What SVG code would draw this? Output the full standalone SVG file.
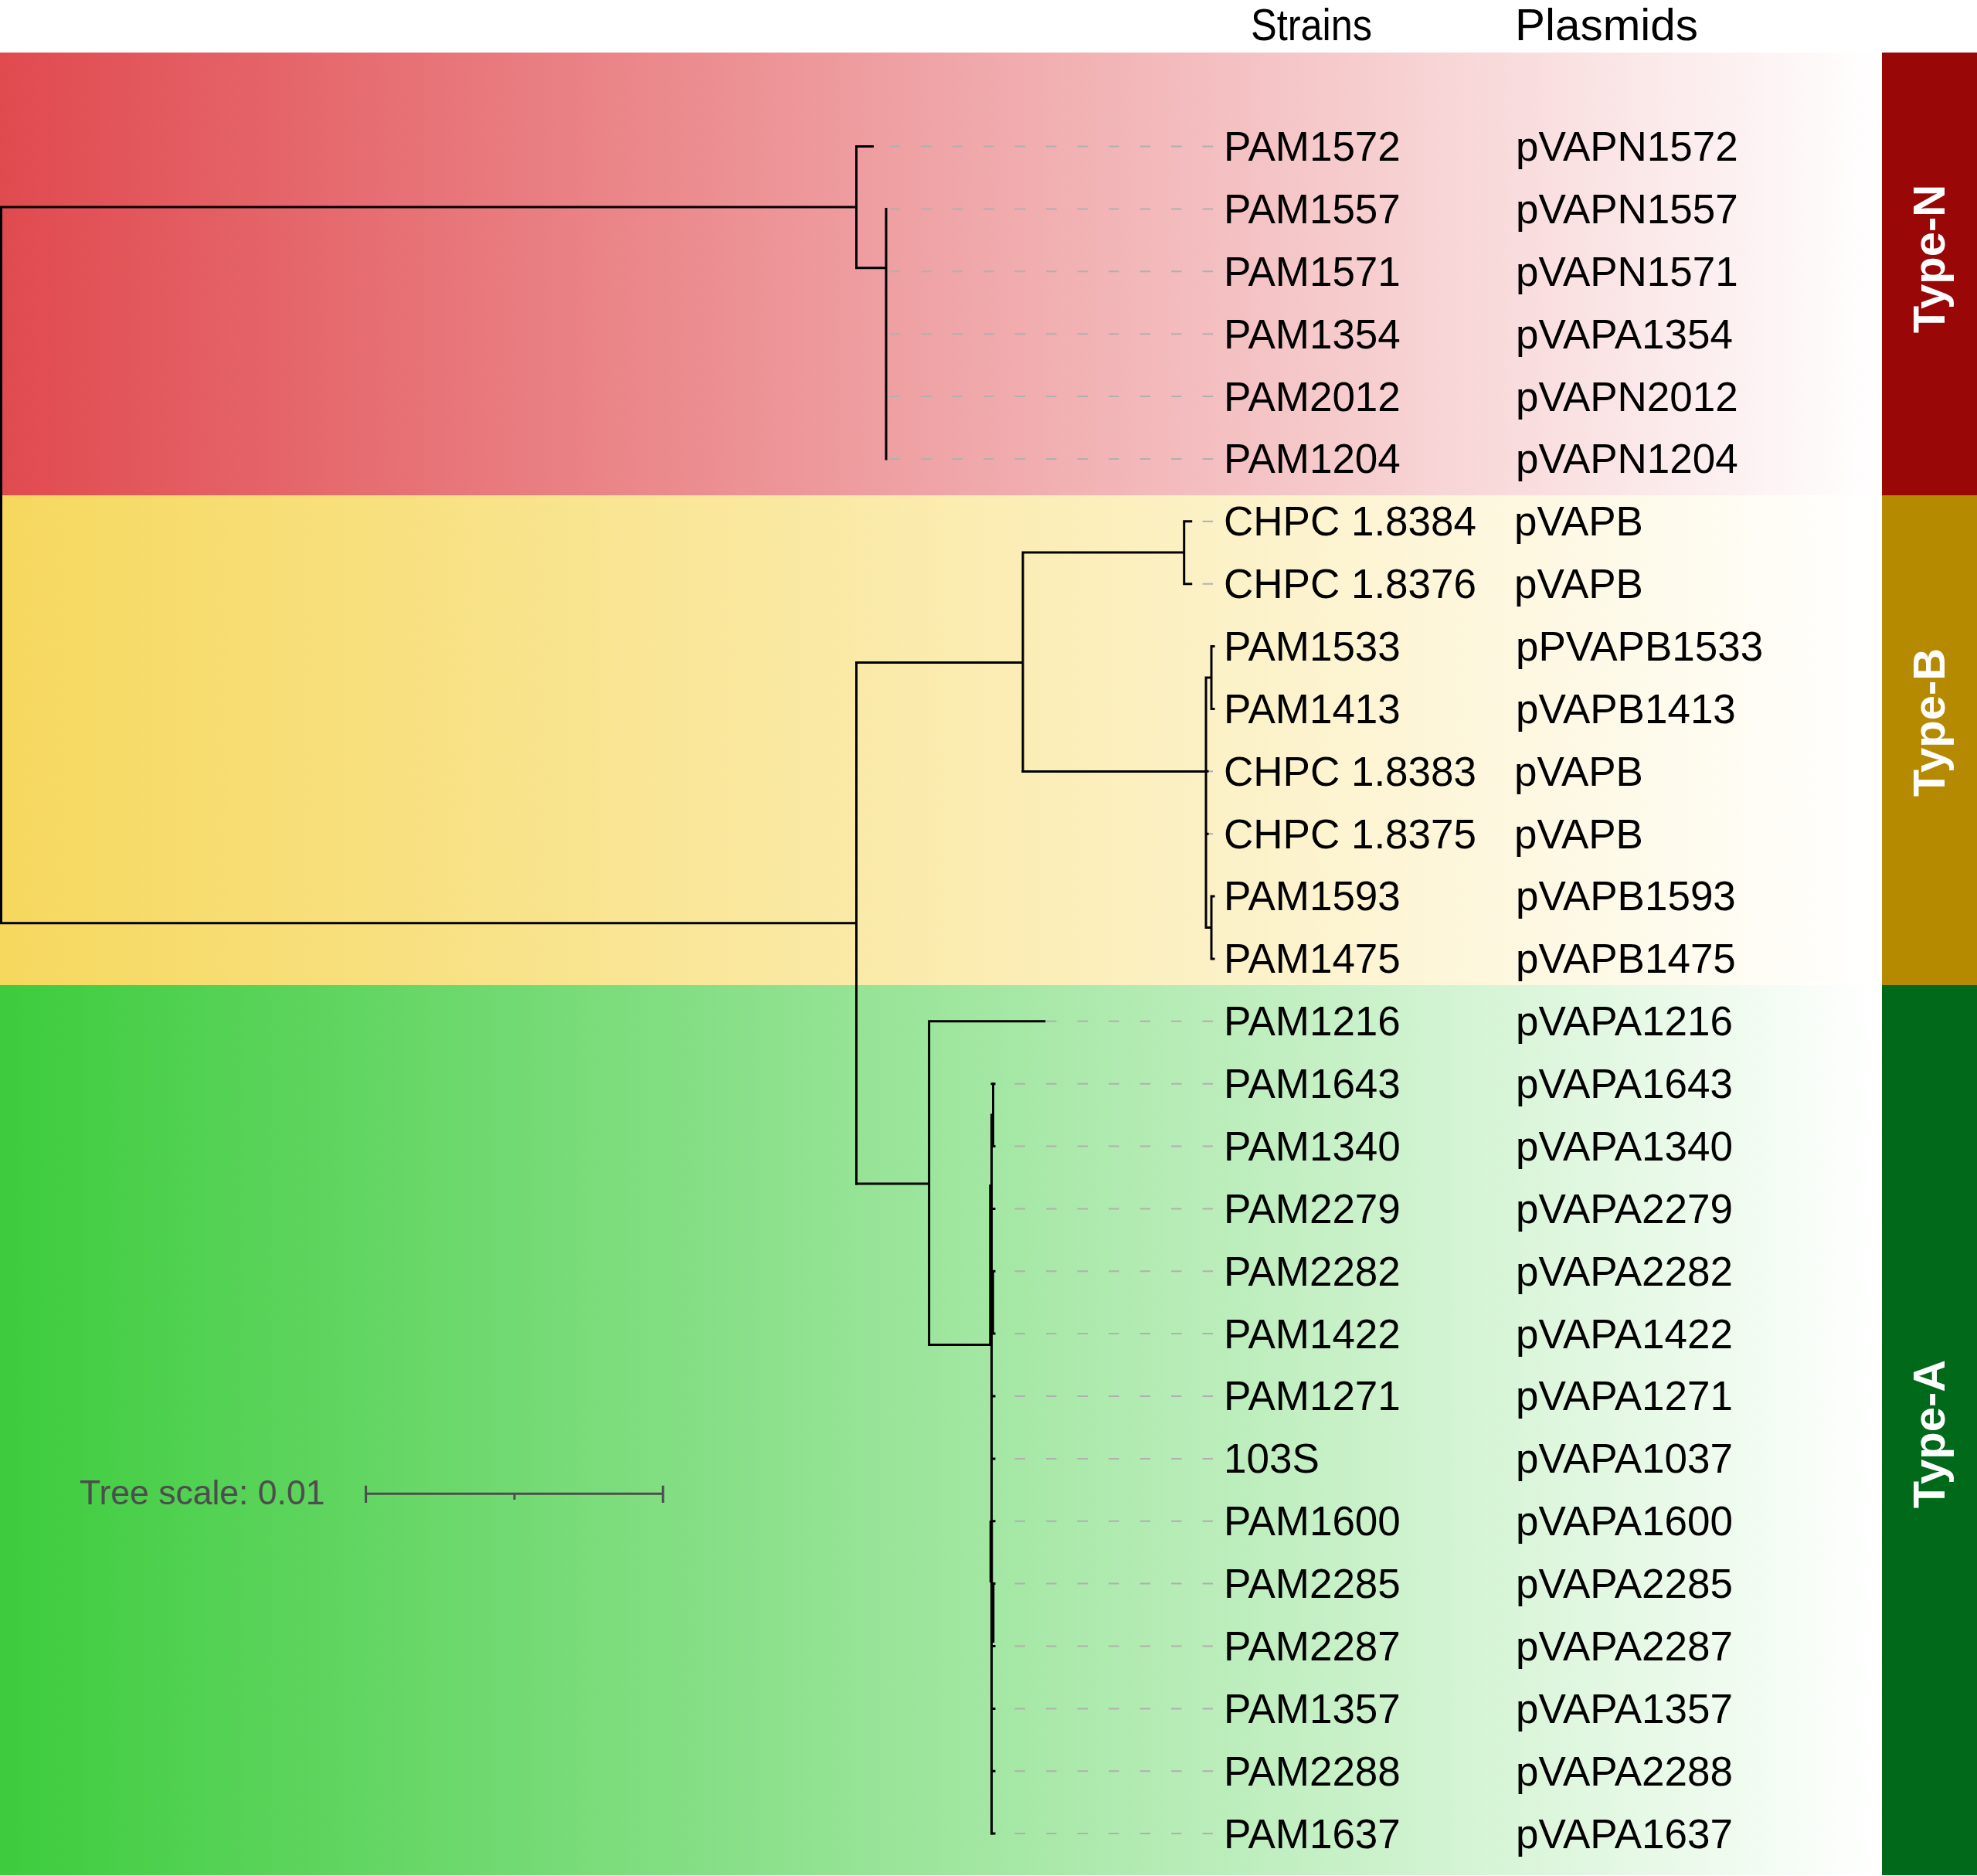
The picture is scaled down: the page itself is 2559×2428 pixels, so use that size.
<svg xmlns="http://www.w3.org/2000/svg" width="2559" height="2428" viewBox="0 0 2559 2428">
<defs>
<linearGradient id="gN" x1="0" y1="0" x2="2436" y2="0" gradientUnits="userSpaceOnUse"><stop offset="0" stop-color="#E04A4F"/><stop offset="1" stop-color="#FFFFFF"/></linearGradient>
<linearGradient id="gB" x1="0" y1="0" x2="2436" y2="0" gradientUnits="userSpaceOnUse"><stop offset="0" stop-color="#F6D85E"/><stop offset="1" stop-color="#FFFFFF"/></linearGradient>
<linearGradient id="gA" x1="0" y1="0" x2="2436" y2="0" gradientUnits="userSpaceOnUse"><stop offset="0" stop-color="#3DCC3D"/><stop offset="1" stop-color="#FFFFFF"/></linearGradient>
</defs>
<style>
.lbl{font-family:"Liberation Sans",Arial,sans-serif;font-size:53px;fill:#000}
.hdr{font-family:"Liberation Sans",Arial,sans-serif;font-size:58px;fill:#000}
.typ{font-family:"Liberation Sans",Arial,sans-serif;font-size:58px;font-weight:bold;fill:#fff;text-anchor:middle}
.br{stroke:#000;stroke-width:3;fill:none;stroke-linecap:square}
.ld{stroke:#b0b0b0;stroke-width:2;stroke-dasharray:13.5 27;fill:none}
.sc{stroke:#4d4d4d;stroke-width:3;fill:none}
</style>
<rect x="0" y="0" width="2559" height="2428" fill="#fff"/>
<g id="bands">
<rect x="0" y="68" width="2436" height="573" fill="url(#gN)"/>
<rect x="0" y="641" width="2436" height="634" fill="url(#gB)"/>
<rect x="0" y="1275" width="2436" height="1152" fill="url(#gA)"/>
<rect x="2436" y="68" width="123" height="573" fill="#990707"/>
<rect x="2436" y="641" width="123" height="634" fill="#B58900"/>
<rect x="2436" y="1275" width="123" height="1152" fill="#00691A"/>
</g>
<g id="type-labels">
<text class="typ" transform="translate(2517,335) rotate(-90)">Type-N</text>
<text class="typ" transform="translate(2517,935) rotate(-90)">Type-B</text>
<text class="typ" transform="translate(2517,1856) rotate(-90)">Type-A</text>
</g>
<g id="headers">
<text class="hdr" x="1619" y="52" textLength="157" lengthAdjust="spacingAndGlyphs">Strains</text>
<text class="hdr" x="1961" y="52" textLength="237" lengthAdjust="spacingAndGlyphs">Plasmids</text>
</g>
<g id="leaders">
<line class="ld" x1="1570" y1="189.6" x2="1130" y2="189.6"/>
<line class="ld" x1="1570" y1="270.5" x2="1148" y2="270.5"/>
<line class="ld" x1="1570" y1="351.3" x2="1148" y2="351.3"/>
<line class="ld" x1="1570" y1="432.2" x2="1148" y2="432.2"/>
<line class="ld" x1="1570" y1="513.1" x2="1148" y2="513.1"/>
<line class="ld" x1="1570" y1="594.0" x2="1148" y2="594.0"/>
<line class="ld" x1="1570" y1="674.8" x2="1542" y2="674.8"/>
<line class="ld" x1="1570" y1="755.7" x2="1542" y2="755.7"/>
<line class="ld" x1="1570" y1="998.3" x2="1563" y2="998.3"/>
<line class="ld" x1="1570" y1="1079.2" x2="1563" y2="1079.2"/>
<line class="ld" x1="1570" y1="1321.8" x2="1352" y2="1321.8"/>
<line class="ld" x1="1570" y1="1402.7" x2="1287" y2="1402.7"/>
<line class="ld" x1="1570" y1="1483.5" x2="1287" y2="1483.5"/>
<line class="ld" x1="1570" y1="1564.4" x2="1287" y2="1564.4"/>
<line class="ld" x1="1570" y1="1645.3" x2="1287" y2="1645.3"/>
<line class="ld" x1="1570" y1="1726.1" x2="1287" y2="1726.1"/>
<line class="ld" x1="1570" y1="1807.0" x2="1287" y2="1807.0"/>
<line class="ld" x1="1570" y1="1887.9" x2="1287" y2="1887.9"/>
<line class="ld" x1="1570" y1="1968.7" x2="1287" y2="1968.7"/>
<line class="ld" x1="1570" y1="2049.6" x2="1287" y2="2049.6"/>
<line class="ld" x1="1570" y1="2130.5" x2="1287" y2="2130.5"/>
<line class="ld" x1="1570" y1="2211.4" x2="1287" y2="2211.4"/>
<line class="ld" x1="1570" y1="2292.2" x2="1287" y2="2292.2"/>
<line class="ld" x1="1570" y1="2373.1" x2="1287" y2="2373.1"/>
</g>
<g id="connectors">
<path class="br" d="M1.5,268 V1194.7 M1.5,268 H1108.5 M1.5,1194.7 H1108.5"/>
<path class="br" d="M1108.5,189.6 V346.7 M1108.5,189.6 H1129.5 M1108.5,346.7 H1147 M1147,270.5 V594"/>
<path class="br" d="M1108.5,857.5 V1532 M1108.5,857.5 H1324 M1324,715 V998.6 M1324,715 H1532.7 M1532.7,674.8 V755.7 M1532.7,674.8 H1541.7 M1532.7,755.7 H1541.7"/>
<path class="br" d="M1324,998.6 H1561 M1561,877 V1200.5 M1561,877 H1568 M1561,1200.5 H1568 M1568,836.6 V917.4 M1568,1160 V1240.9 M1568,836.6 H1571 M1568,917.4 H1571 M1568,1160 H1571 M1568,1240.9 H1571 M1561,998.3 H1563 M1561,1079.2 H1563"/>
<path class="br" d="M1108.5,1532 H1202.6 M1202.6,1321.8 V1740.6 M1202.6,1321.8 H1351.8 M1202.6,1740.6 H1283"/>
<path class="br" d="M1285.5,1402.7 V1483.5 M1283.5,1443 V2373.1"/>
<path stroke="#000" stroke-width="4.5" fill="none" d="M1284.5,1443 V1484 M1282.5,1533 V1740 M1284.5,1644 V1727 M1283,1968 V2048 M1285,2048 V2126"/>
<path class="br" d="M1284,1402.7 H1287 M1284,1483.5 H1287 M1284,1564.4 H1287 M1284,1645.3 H1287 M1284,1726.1 H1287 M1284,1807 H1287 M1284,1887.9 H1287 M1284,1968.7 H1287 M1284,2049.6 H1287 M1284,2130.5 H1287 M1284,2211.4 H1287 M1284,2292.2 H1287 M1284,2373.1 H1287"/>
</g>
<g id="leaves">
<g id="leaf-PAM1572"><text class="lbl" x="1584" y="208">PAM1572</text><text class="lbl" x="1962" y="208">pVAPN1572</text></g>
<g id="leaf-PAM1557"><text class="lbl" x="1584" y="288.9">PAM1557</text><text class="lbl" x="1962" y="288.9">pVAPN1557</text></g>
<g id="leaf-PAM1571"><text class="lbl" x="1584" y="369.7">PAM1571</text><text class="lbl" x="1962" y="369.7">pVAPN1571</text></g>
<g id="leaf-PAM1354"><text class="lbl" x="1584" y="450.6">PAM1354</text><text class="lbl" x="1962" y="450.6">pVAPA1354</text></g>
<g id="leaf-PAM2012"><text class="lbl" x="1584" y="531.5">PAM2012</text><text class="lbl" x="1962" y="531.5">pVAPN2012</text></g>
<g id="leaf-PAM1204"><text class="lbl" x="1584" y="612.4">PAM1204</text><text class="lbl" x="1962" y="612.4">pVAPN1204</text></g>
<g id="leaf-CHPC18384"><text class="lbl" x="1584" y="693.2">CHPC 1.8384</text><text class="lbl" x="1960" y="693.2">pVAPB</text></g>
<g id="leaf-CHPC18376"><text class="lbl" x="1584" y="774.1">CHPC 1.8376</text><text class="lbl" x="1960" y="774.1">pVAPB</text></g>
<g id="leaf-PAM1533"><text class="lbl" x="1584" y="855">PAM1533</text><text class="lbl" x="1962" y="855">pPVAPB1533</text></g>
<g id="leaf-PAM1413"><text class="lbl" x="1584" y="935.8">PAM1413</text><text class="lbl" x="1962" y="935.8">pVAPB1413</text></g>
<g id="leaf-CHPC18383"><text class="lbl" x="1584" y="1016.7">CHPC 1.8383</text><text class="lbl" x="1960" y="1016.7">pVAPB</text></g>
<g id="leaf-CHPC18375"><text class="lbl" x="1584" y="1097.6">CHPC 1.8375</text><text class="lbl" x="1960" y="1097.6">pVAPB</text></g>
<g id="leaf-PAM1593"><text class="lbl" x="1584" y="1178.4">PAM1593</text><text class="lbl" x="1962" y="1178.4">pVAPB1593</text></g>
<g id="leaf-PAM1475"><text class="lbl" x="1584" y="1259.3">PAM1475</text><text class="lbl" x="1962" y="1259.3">pVAPB1475</text></g>
<g id="leaf-PAM1216"><text class="lbl" x="1584" y="1340.2">PAM1216</text><text class="lbl" x="1962" y="1340.2">pVAPA1216</text></g>
<g id="leaf-PAM1643"><text class="lbl" x="1584" y="1421.1">PAM1643</text><text class="lbl" x="1962" y="1421.1">pVAPA1643</text></g>
<g id="leaf-PAM1340"><text class="lbl" x="1584" y="1501.9">PAM1340</text><text class="lbl" x="1962" y="1501.9">pVAPA1340</text></g>
<g id="leaf-PAM2279"><text class="lbl" x="1584" y="1582.8">PAM2279</text><text class="lbl" x="1962" y="1582.8">pVAPA2279</text></g>
<g id="leaf-PAM2282"><text class="lbl" x="1584" y="1663.7">PAM2282</text><text class="lbl" x="1962" y="1663.7">pVAPA2282</text></g>
<g id="leaf-PAM1422"><text class="lbl" x="1584" y="1744.5">PAM1422</text><text class="lbl" x="1962" y="1744.5">pVAPA1422</text></g>
<g id="leaf-PAM1271"><text class="lbl" x="1584" y="1825.4">PAM1271</text><text class="lbl" x="1962" y="1825.4">pVAPA1271</text></g>
<g id="leaf-103S"><text class="lbl" x="1584" y="1906.3">103S</text><text class="lbl" x="1962" y="1906.3">pVAPA1037</text></g>
<g id="leaf-PAM1600"><text class="lbl" x="1584" y="1987.1">PAM1600</text><text class="lbl" x="1962" y="1987.1">pVAPA1600</text></g>
<g id="leaf-PAM2285"><text class="lbl" x="1584" y="2068">PAM2285</text><text class="lbl" x="1962" y="2068">pVAPA2285</text></g>
<g id="leaf-PAM2287"><text class="lbl" x="1584" y="2148.9">PAM2287</text><text class="lbl" x="1962" y="2148.9">pVAPA2287</text></g>
<g id="leaf-PAM1357"><text class="lbl" x="1584" y="2229.8">PAM1357</text><text class="lbl" x="1962" y="2229.8">pVAPA1357</text></g>
<g id="leaf-PAM2288"><text class="lbl" x="1584" y="2310.6">PAM2288</text><text class="lbl" x="1962" y="2310.6">pVAPA2288</text></g>
<g id="leaf-PAM1637"><text class="lbl" x="1584" y="2391.5">PAM1637</text><text class="lbl" x="1962" y="2391.5">pVAPA1637</text></g>
</g>
<g id="scale-bar">
<text x="103" y="1947" font-family="'Liberation Sans',Arial,sans-serif" font-size="44.5" fill="#4d4d4d">Tree scale: 0.01</text>
<path class="sc" d="M473.6,1933.3 H858.2 M473.6,1922.7 V1945 M858.2,1922.7 V1945 M665.9,1933.3 V1941"/>
</g>
</svg>
